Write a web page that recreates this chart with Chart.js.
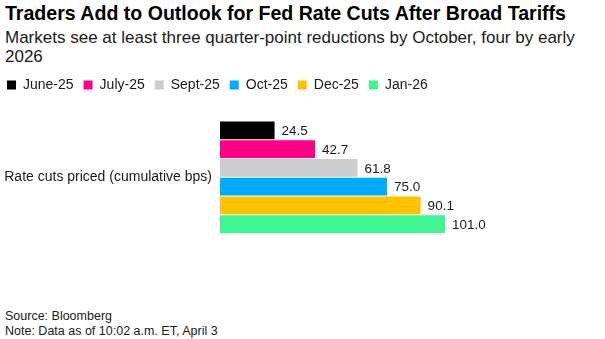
<!DOCTYPE html>
<html>
<head>
<meta charset="utf-8">
<script src="https://cdn.jsdelivr.net/npm/chart.js@4"></script>
<style>
  body { margin: 0; width: 605px; height: 339px; overflow: hidden; background: #fff; font-family: "Liberation Sans", Arial, sans-serif; position: relative; }
  .title { position: absolute; left: 5px; top: 1px; font-weight: bold; font-size: 21px; color: #000; white-space: nowrap; transform-origin: left top; }
  .subtitle { position: absolute; left: 5px; top: 28px; font-size: 17px; line-height: 19px; color: #1a1a1a; white-space: nowrap; }
  .footer { position: absolute; left: 5px; top: 309px; font-size: 12.5px; line-height: 15px; color: #1a1a1a; }
  #chart { position: absolute; left: -3px; top: 68px; }
</style>
</head>
<body>
<div class="title" id="title">Traders Add to Outlook for Fed Rate Cuts After Broad Tariffs</div>
<div class="subtitle">Markets see at least three quarter-point reductions by October, four by early<br>2026</div>
<canvas id="chart" width="608" height="182"></canvas>
<div class="footer">Source: Bloomberg<br>Note: Data as of 10:02 a.m. ET, April 3</div>
<script>
// Data
const category = ['Rate cuts priced (cumulative bps)'];
const months = ['June-25', 'July-25', 'Sept-25', 'Oct-25', 'Dec-25', 'Jan-26'];
const cuts = [24.5, 42.7, 61.8, 75.0, 90.1, 101.0];
const colors = ['#000000', '#ff0088', '#cccccc', '#00aaff', '#ffc200', '#3ff592'];

// squeeze the title to the width it has in the original
const titleEl = document.getElementById('title');
const titleW = titleEl.getBoundingClientRect().width;
titleEl.style.transform = 'scaleX(' + (561 / titleW) + ')';

// extra room under the legend
const legendGap = {
    id: 'legendGap',
    afterInit(chart) {
        const fit = chart.legend.fit;
        chart.legend.fit = function () {
            fit.call(this);
            this.height += 19;
        };
    }
};

// value labels at the end of each bar
const valueLabels = {
    id: 'valueLabels',
    afterDatasetsDraw(chart) {
        const ctx = chart.ctx;
        ctx.save();
        ctx.font = '13.5px "Liberation Sans", Arial, sans-serif';
        ctx.fillStyle = '#1a1a1a';
        ctx.textBaseline = 'middle';
        chart.data.datasets.forEach((ds, i) => {
            const bar = chart.getDatasetMeta(i).data[0];
            ctx.fillText(ds.data[0].toFixed(1), bar.x + 7, bar.y + 1);
        });
        ctx.restore();
    }
};

new Chart(document.getElementById('chart'), {
    type: 'bar',
    data: {
        labels: category,
        datasets: months.map((m, i) => ({
            label: m,
            data: [cuts[i]],
            backgroundColor: colors[i],
            barPercentage: 0.95,
            categoryPercentage: 1
        }))
    },
    options: {
        indexAxis: 'y',
        responsive: false,
        animation: false,
        layout: { padding: { top: 0, right: 51, bottom: 6, left: 0 } },
        plugins: {
            legend: {
                align: 'start',
                labels: {
                    boxWidth: 9,
                    boxHeight: 9,
                    padding: 10,
                    color: '#1a1a1a',
                    font: { family: '"Liberation Sans", Arial, sans-serif', size: 14 }
                }
            },
            tooltip: { enabled: false }
        },
        scales: {
            x: { display: false, min: 0, max: 150 },
            y: {
                grid: { display: false, drawTicks: false },
                border: { display: false },
                ticks: {
                    padding: 8,
                    color: '#1a1a1a',
                    font: { family: '"Liberation Sans", Arial, sans-serif', size: 14 }
                },
                afterFit(scale) { scale.width = 223; }
            }
        }
    },
    plugins: [legendGap, valueLabels]
});
</script>
</body>
</html>
